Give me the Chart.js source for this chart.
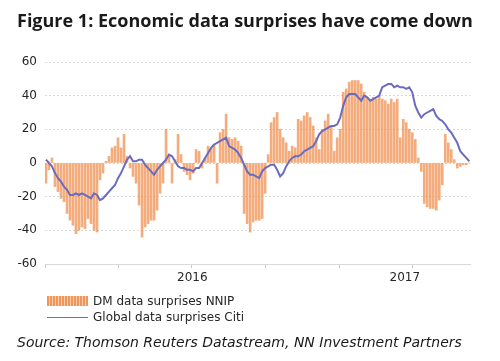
<!DOCTYPE html>
<html><head><meta charset="utf-8">
<script src="https://cdn.jsdelivr.net/npm/chart.js@4.4.1/dist/chart.umd.min.js"></script>
<style>
html,body{margin:0;padding:0;background:#fff;}
#wrap{position:relative;width:500px;height:361px;overflow:hidden;}
#c{position:absolute;left:0;top:0;}
.title{position:absolute;left:17px;top:8px;font:bold 18px "Open Sans", sans-serif;color:#1a1a1a;white-space:nowrap;}
.lgrow{position:absolute;left:47px;height:14px;font:12px "DejaVu Sans", sans-serif;color:#262626;white-space:nowrap;}
.sw{position:absolute;left:0;width:41px;}
.lgtxt{position:absolute;left:46px;top:0;line-height:14px;}
.source{position:absolute;left:17px;top:334px;font:italic 14px "DejaVu Sans", sans-serif;color:#1a1a1a;white-space:nowrap;}
</style></head>
<body><div id="wrap">
<canvas id="c" width="500" height="361"></canvas>
<div class="title">Figure 1: Economic data surprises have come down</div>
<div class="lgrow" style="top:294px"><div class="sw" style="top:2px;height:10px;background:repeating-linear-gradient(90deg,#f0955a 0 2px,#fbd0b0 2px 3px);"></div><div class="lgtxt" id="lg0"></div></div>
<div class="lgrow" style="top:310px"><div class="sw" style="top:7px;height:1px;background:#6b6bbf;"></div><div class="lgtxt" id="lg1"></div></div>
<div class="source">Source: Thomson Reuters Datastream, NN Investment Partners</div>
</div>
<script>
// ---- data ----
const seriesNames = ['DM data surprises NNIP', 'Global data surprises Citi'];
// samples are regularly spaced through time, day 0 = 1 Jan 2016
const sampleStartDay = 1.2;
const sampleStepDays = 3.73;
const dmSurprises = [
 -12,-4,3,-14,-17,-21,-23,-30,-34,-37,
 -42,-40,-38,-39,-33,-36,-40,-41,-10,-6,
 1,4,9,10,15,9,17,4,-3,-8,
 -12,-25,-44,-38,-36,-34,-34,-28,-18,-12,
 20,5,-12,2,17,5,-5,-7,-10,-6,
 8,7,-3,3,10,9,11,-12,18,20,
 29,15,14,15,13,10,-30,-36,-41,-35,
 -34,-34,-33,-18,5,24,27,30,20,15,
 12,7,10,9,26,25,28,30,27,22,
 15,8,20,25,29,22,7,15,20,42,
 44,48,49,49,49,47,42,39,37,39,
 38,40,38,37,35,38,36,38,15,26,
 24,20,18,14,3,-5,-24,-26,-27,-27,
 -28,-22,-13,17,12,8,2,-3,-2,-1,
 -1,0];
const citiSurprises = [
 2,0,-2,-6,-9,-11,-14,-16,-19,-19,
 -18,-19,-18,-19,-20,-21,-18,-19,-22,-21,
 -19,-17,-15,-13,-9,-6,-2,2,4,1,
 1,2,2,-1,-3,-5,-7,-4,-2,0,
 2,5,4,1,-2,-3,-3,-4,-4,-5,
 -3,-3,0,3,6,9,11,12,13,14,
 15,10,9,8,6,3,-1,-5,-7,-7,
 -8,-9,-5,-3,-2,-1,-1,-4,-8,-6,
 -2,1,3,4,4,5,7,8,9,10,
 13,17,19,20,21,22,22,23,27,34,
 39,41,41,41,39,37,40,39,37,38,
 39,40,45,46,47,47,45,46,45,45,
 44,45,42,34,30,27,29,30,31,32,
 28,26,25,23,20,18,15,12,7,5,
 3,1];
const yTicks = [-60,-40,-20,0,20,40,60];
const quarterTickDays = [0,91,182,274,366,456];
const yearLabels = ['2016','2017'];
const yearLabelDays = [183,447];
const xMinDay = 0, xMaxDay = 528;

document.getElementById('lg0').textContent = seriesNames[0];
document.getElementById('lg1').textContent = seriesNames[1];

const barPts = dmSurprises.map((v,i)=>({x: sampleStartDay + i*sampleStepDays, y: v}));
const linePts = citiSurprises.map((v,i)=>({x: sampleStartDay + i*sampleStepDays, y: v}));

const fontMain = {family: '"DejaVu Sans", sans-serif', size: 12};

new Chart(document.getElementById('c'), {
  type: 'bar',
  data: {
    datasets: [
      {type:'line', label: seriesNames[1], data: linePts, borderColor:'#6b6bbf', borderWidth:2,
       pointRadius:0, tension:0, fill:false, order:0, xAxisID:'x', yAxisID:'y'},
      {type:'bar', label: seriesNames[0], data: barPts, backgroundColor:'rgba(240,140,75,0.72)',
       barThickness:2, borderWidth:0, order:1, xAxisID:'x', yAxisID:'y'}
    ]
  },
  options: {
    responsive:false, animation:false, maintainAspectRatio:false,
    layout:{padding:{left:0,right:30,top:62,bottom:73}},
    plugins:{legend:{display:false}, tooltip:{enabled:false}},
    scales:{
      x:{type:'linear', position:'bottom', weight:0, offset:false, min:xMinDay, max:xMaxDay,
         afterBuildTicks:(s)=>{s.ticks = quarterTickDays.map(v=>({value:v}));},
         afterFit:(s)=>{s.height = 4;},
         ticks:{display:false},
         grid:{drawOnChartArea:false, drawTicks:true, tickLength:4, color:'#c8c8c8', offset:false},
         border:{display:true, color:'#d9d9d9', width:1}},
      xYear:{type:'linear', position:'bottom', weight:1, offset:false, min:xMinDay, max:xMaxDay,
         afterBuildTicks:(s)=>{s.ticks = yearLabelDays.map(v=>({value:v}));},
         afterFit:(s)=>{s.height = 20;},
         ticks:{autoSkip:false, maxRotation:0, padding:3, color:'#262626', font:fontMain,
                callback:(v,i)=>yearLabels[i]},
         grid:{display:false, drawTicks:false, tickLength:0, offset:false}, border:{display:false}},
      y:{min:-60, max:60,
         afterBuildTicks:(s)=>{s.ticks = yTicks.map(v=>({value:v}));},
         afterFit:(s)=>{s.width = 45;},
         ticks:{padding:8, color:'#262626', font:fontMain},
         grid:{color:'#d9d9d9', drawTicks:false, lineWidth:1},
         border:{display:false, dash:[2,2]}}
    }
  }
});
</script>
</body></html>
